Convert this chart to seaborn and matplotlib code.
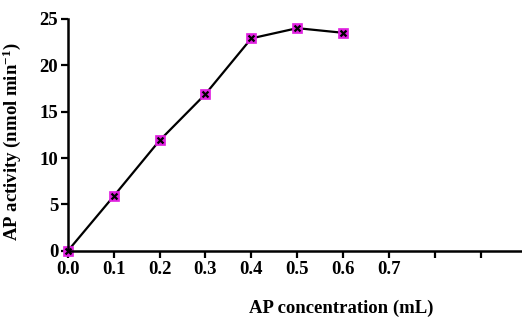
import matplotlib
matplotlib.use("Agg")
import matplotlib.pyplot as plt
import seaborn as sns
import pandas as pd

concentration = [0.0, 0.1, 0.2, 0.3, 0.4, 0.5, 0.6]
activity = [0.0, 5.9, 11.9, 16.9, 22.9, 24.0, 23.5]
x_ticks = [0.0, 0.1, 0.2, 0.3, 0.4, 0.5, 0.6, 0.7, 0.8, 0.9]
x_tick_labels = ["0.0", "0.1", "0.2", "0.3", "0.4", "0.5", "0.6", "0.7", "", ""]
y_ticks = [0, 5, 10, 15, 20, 25]

sns.set_theme(style="ticks")
plt.rcParams['font.family'] = ['Liberation Serif', 'DejaVu Serif']
plt.rcParams['mathtext.fontset'] = 'custom'
plt.rcParams['mathtext.rm'] = 'Liberation Serif:bold'
plt.rcParams['mathtext.default'] = 'rm'

df = pd.DataFrame({"c": concentration, "a": activity})

fig = plt.figure(figsize=(5.22, 3.2), dpi=100)
ax = fig.add_axes([0.130, 0.216, 0.87, 0.725])

sns.lineplot(data=df, x="c", y="a", ax=ax, color="black", linewidth=1.6,
             marker="s", markersize=7, markerfacecolor="#e020e0",
             markeredgecolor="#e020e0", markeredgewidth=0.5, clip_on=False)
sns.scatterplot(data=df, x="c", y="a", ax=ax, marker="x", color="black",
                s=18, linewidth=1.6, zorder=5, clip_on=False)

ax.set_xlim(0, 0.99)
ax.set_ylim(0, 25)
ax.set_xticks(x_ticks)
ax.set_xticklabels(x_tick_labels)
ax.set_yticks(y_ticks)
for lab in ax.get_xticklabels() + ax.get_yticklabels():
    lab.set_fontweight("bold")
    lab.set_fontsize(13.5)

ax.tick_params(axis="both", direction="out", length=5, width=1.6, color="black",
               labelcolor="black", pad=2)
for s in ["left", "bottom"]:
    ax.spines[s].set_linewidth(1.8)
    ax.spines[s].set_color("black")
for s in ["top", "right"]:
    ax.spines[s].set_visible(False)

ax.set_xlabel("AP concentration (mL)", fontsize=13.5, fontweight="bold", color="black")
ax.set_ylabel(r"AP activity (nmol min$^{-1}$)", fontsize=13.5, fontweight="bold",
              color="black")
ax.xaxis.set_label_coords(0.601, -0.212)
ax.yaxis.set_label_coords(-0.098, 0.47)

fig.savefig("out.png", dpi=100)
